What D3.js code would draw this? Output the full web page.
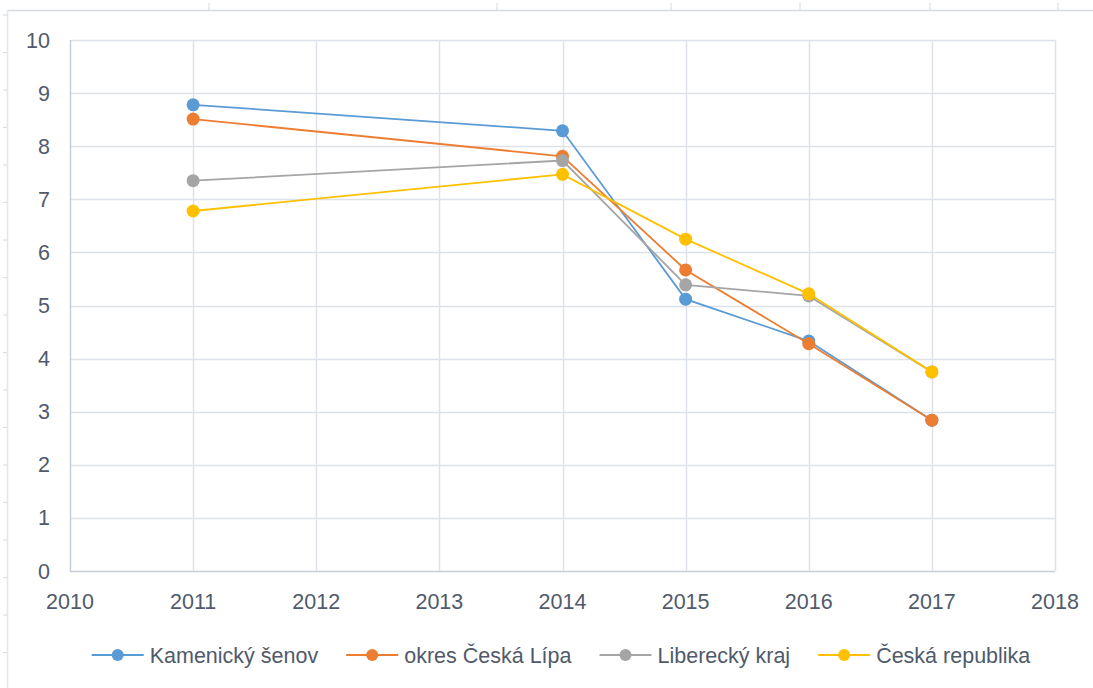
<!DOCTYPE html>
<html>
<head>
<meta charset="utf-8">
<script src="https://cdn.jsdelivr.net/npm/d3@7"></script>
<style>
  body { margin: 0; background: #fff; }
  text { font-family: "Liberation Sans", "DejaVu Sans", sans-serif; fill: #505a6b; }
</style>
</head>
<body>
<div id="chart"></div>
<script>
// data
var years = [2011, 2014, 2015, 2016, 2017];
var seriesNames = ["Kamenický šenov", "okres Česká Lípa", "Liberecký kraj", "Česká republika"];
var kamenicky = [8.78, 8.29, 5.12, 4.33, 2.84];
var ceskaLipa = [8.51, 7.81, 5.67, 4.28, 2.84];
var liberecky = [7.35, 7.73, 5.39, 5.18, 3.75];
var cr = [6.78, 7.47, 6.25, 5.22, 3.75];
var colors = ["#5b9bd5", "#ed7d31", "#a5a5a5", "#ffc000"];
var xTicks = [2010, 2011, 2012, 2013, 2014, 2015, 2016, 2017, 2018];
var yTicks = [0, 1, 2, 3, 4, 5, 6, 7, 8, 9, 10];

var allSeries = [kamenicky, ceskaLipa, liberecky, cr].map(function(vals, i){
    return {name: seriesNames[i], color: colors[i],
        points: vals.map(function(v, j){ return {year: years[j], value: v}; })};
});

var W = 1093, H = 688;
var fontSize = "21.5px";
var svg = d3.select("#chart").append("svg").attr("width", W).attr("height", H);

// outer frame (faint border of the original screenshot)
var frameTicksX = [209, 497, 671, 800, 930, 1058];
svg.append("line").attr("x1", 8).attr("x2", W).attr("y1", 10.5).attr("y2", 10.5)
    .attr("stroke", "#d6dbe2").attr("stroke-width", 1.5);
svg.append("line").attr("x1", 7.5).attr("x2", 7.5).attr("y1", 10).attr("y2", H)
    .attr("stroke", "#e2e6ec").attr("stroke-width", 1.5);
svg.selectAll(".ftx").data(frameTicksX).enter().append("line")
    .attr("x1", d=>d).attr("x2", d=>d).attr("y1", 3).attr("y2", 10)
    .attr("stroke", "#d6dbe2");
svg.selectAll(".fty").data(d3.range(15, H, 37.5)).enter().append("line")
    .attr("x1", 3).attr("x2", 7).attr("y1", d=>d).attr("y2", d=>d)
    .attr("stroke", "#d6dbe2");

var plotL = 70, plotR = 1055, plotT = 40, plotB = 571;
var x = d3.scaleLinear().domain([2010, 2018]).range([plotL, plotR]);
var y = d3.scaleLinear().domain([0, 10]).range([plotB, plotT]);

// gridlines
svg.append("g").selectAll("line").data(yTicks).enter().append("line")
    .attr("x1", plotL).attr("x2", plotR)
    .attr("y1", d=>Math.round(y(d)) + 0.5).attr("y2", d=>Math.round(y(d)) + 0.5)
    .attr("stroke", d=>d === 0 ? "#c5cdd8" : "#dde2e9").attr("stroke-width", 1.5);
svg.append("g").selectAll("line").data(xTicks).enter().append("line")
    .attr("y1", plotT).attr("y2", plotB)
    .attr("x1", d=>Math.round(x(d)) + 0.5).attr("x2", d=>Math.round(x(d)) + 0.5)
    .attr("stroke", d=>d === 2010 ? "#c5cdd8" : "#dde2e9").attr("stroke-width", 1.5);

// axis labels
svg.append("g").selectAll("text").data(yTicks).enter().append("text")
    .attr("x", 50).attr("y", d=>y(d)).attr("dy", "0.35em")
    .attr("text-anchor", "end").style("font-size", fontSize)
    .text(d=>d);
svg.append("g").selectAll("text").data(xTicks).enter().append("text")
    .attr("x", d=>x(d)).attr("y", 601).attr("dy", "0.35em")
    .attr("text-anchor", "middle").style("font-size", fontSize)
    .text(d=>d);

// series
var line = d3.line().x(d=>x(d.year)).y(d=>y(d.value));
var sg = svg.selectAll(".series").data(allSeries).enter().append("g").attr("class", "series");
sg.append("path").attr("d", d=>line(d.points)).attr("fill", "none")
    .attr("stroke", d=>d.color).attr("stroke-width", 1.8);
sg.selectAll("circle").data(d=>d.points.map(p=>({p: p, color: d.color}))).enter().append("circle")
    .attr("cx", d=>x(d.p.year)).attr("cy", d=>y(d.p.value)).attr("r", 6.5)
    .attr("fill", d=>d.color);

// legend
var legend = svg.append("g");
var items = legend.selectAll("g").data(allSeries).enter().append("g");
items.append("text").attr("x", 58).attr("y", 655).attr("dy", "0.35em")
    .style("font-size", fontSize).text(d=>d.name);
var widths = [];
items.each(function(){ widths.push(58 + this.querySelector("text").getComputedTextLength()); });
var gap = 28;
var total = d3.sum(widths) + gap * (widths.length - 1);
var pos = 561 - total / 2;
items.attr("transform", function(d, i){
    var t = "translate(" + pos + ",0)";
    pos += widths[i] + gap;
    return t;
});
items.append("line").attr("x1", 0).attr("x2", 52).attr("y1", 655).attr("y2", 655)
    .attr("stroke", d=>d.color).attr("stroke-width", 1.8);
items.append("circle").attr("cx", 26).attr("cy", 655).attr("r", 6).attr("fill", d=>d.color);
</script>
</body>
</html>
